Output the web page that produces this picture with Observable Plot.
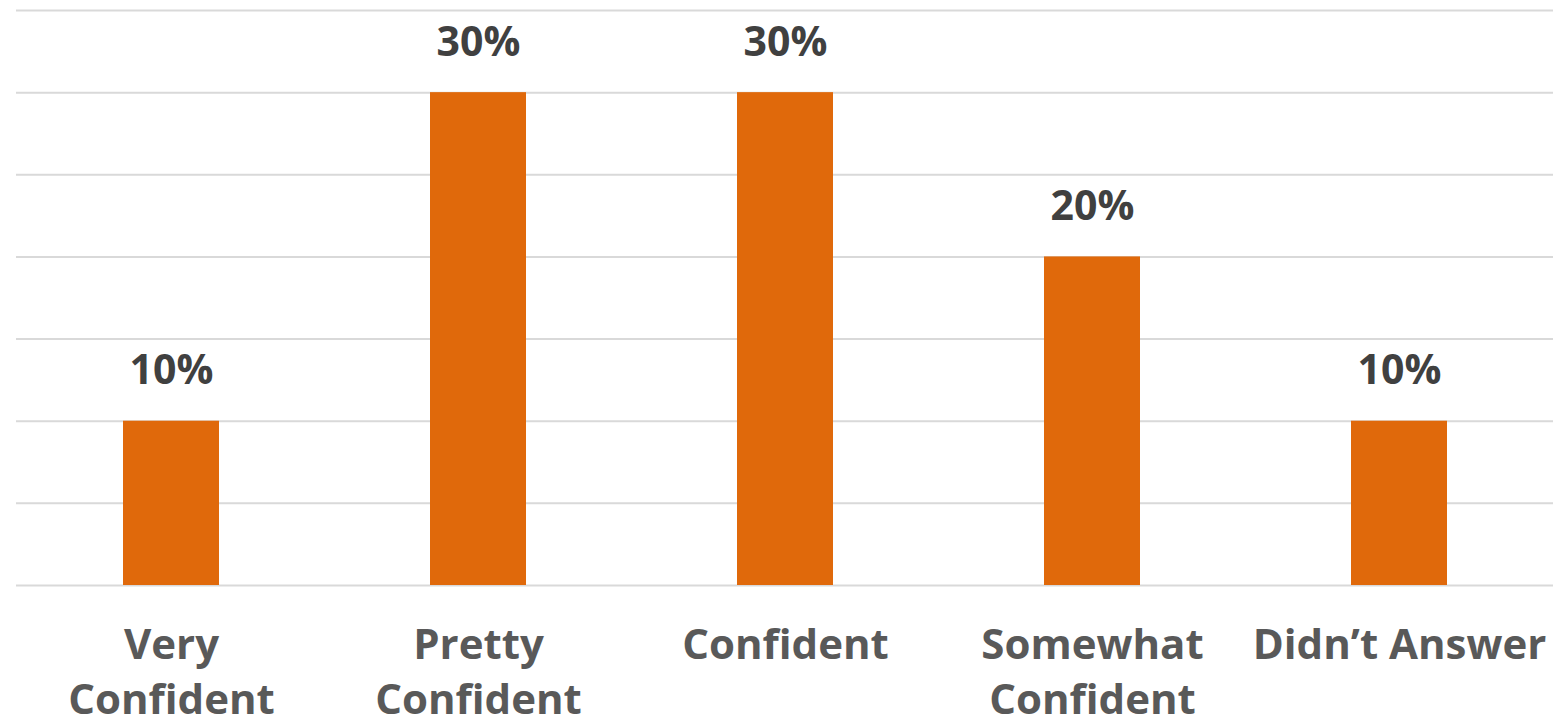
<!DOCTYPE html>
<html>
<head>
<meta charset="utf-8">
<script src="https://cdn.jsdelivr.net/npm/d3@7"></script>
<script src="https://cdn.jsdelivr.net/npm/@observablehq/plot@0.6"></script>
<style>
  html, body { margin: 0; padding: 0; background: #fff; }
  #chart svg { display: block; }
</style>
</head>
<body>
<div id="chart"></div>
<script>
const categories = ["Very Confident", "Pretty Confident", "Confident", "Somewhat Confident", "Didn't Answer"];
const tickLabels = ["Very\nConfident", "Pretty\nConfident", "Confident", "Somewhat\nConfident", "Didn\u2019t Answer"];
const values = [0.10, 0.30, 0.30, 0.20, 0.10];
const gridTicks = [0, 0.05, 0.10, 0.15, 0.20, 0.25, 0.30, 0.35];

const data = categories.map((c, i) => ({category: c, value: values[i]}));
const labelMap = new Map(categories.map((c, i) => [c, tickLabels[i]]));

const FONT = "'Open Sans', sans-serif";

const chart = Plot.plot({
  width: 1557,
  height: 728,
  marginLeft: 16,
  marginRight: 4,
  marginTop: 10,
  marginBottom: 143,
  style: {fontFamily: FONT, background: "#fff"},
  x: {domain: categories, paddingInner: 0.688, paddingOuter: 0.344, align: 0.5},
  y: {domain: [0, 0.35], axis: null},
  marks: [
    Plot.ruleY(gridTicks, {stroke: "#d9d9d9", strokeWidth: 2}),
    Plot.barY(data, {x: "category", y: "value", fill: "#E0690B"}),
    Plot.text(data, {
      x: "category", y: "value", text: d => Math.round(d.value * 100) + "%",
      dy: -50, fontSize: 41, fontWeight: "bold", fill: "#404040"
    }),
    Plot.axisX({
      tickSize: 0, tickPadding: 34, fontSize: 42, fontWeight: "bold",
      color: "#595959", lineHeight: 1.31, label: null,
      tickFormat: d => labelMap.get(d)
    })
  ]
});
document.getElementById("chart").appendChild(chart);
</script>
</body>
</html>
